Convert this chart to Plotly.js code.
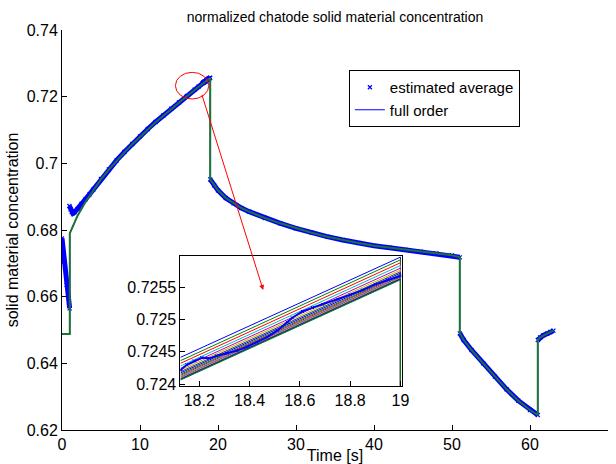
<!DOCTYPE html>
<html><head><meta charset="utf-8">
<script src="https://cdn.plot.ly/plotly-3.0.1.min.js"></script>
<style>html,body{margin:0;padding:0;background:#fff}#chart{width:616px;height:464px}</style>
</head><body><div id="chart"></div>
<script>
// ---- full order model (time [s], normalized concentration) ----
const fullTime = [0, 1.0, 1.0, 1.5, 2, 3, 4, 5, 6, 7, 8, 9, 10, 11, 12, 13, 14, 15, 16, 17, 18, 19.0,
  19.0, 19.5, 20, 21, 22, 23, 24, 26, 28, 30, 32, 34, 36, 38, 40, 42, 44, 46, 48, 50, 51.0,
  51.0, 51.5, 52.5, 54, 55.5, 57, 58.5, 60, 61.0,
  61.0, 61.3, 61.7, 62.2, 62.6, 63.0];
const fullConc = [0.6488, 0.6488, 0.6790, 0.6818, 0.6843, 0.6884, 0.6920, 0.6952, 0.6981, 0.7008, 0.7033, 0.7057, 0.7080, 0.7102, 0.7123, 0.7143, 0.7163, 0.7182, 0.7201, 0.7220, 0.7238, 0.7256,
  0.6952, 0.6934, 0.6919, 0.6896, 0.6880, 0.6866, 0.6855, 0.6836, 0.6820, 0.6805, 0.6792, 0.6780, 0.6770, 0.6761, 0.6753, 0.6747, 0.6741, 0.6735, 0.6730, 0.6724, 0.6718,
  0.6490, 0.6470, 0.6440, 0.6400, 0.6360, 0.6322, 0.6288, 0.6260, 0.6245,
  0.6470, 0.6478, 0.6484, 0.6489, 0.6494, 0.6498];

// ---- estimated average (null = gap between segments) ----
const estTime = [0, 0.3, 0.6, 0.98, null,
  0.95, 1.1, 1.25, 1.4, 1.6, 2.0, 2.5, 3.0, 3.5, 4.0, 5, 6, 7, 8, 9, 10, 11, 12, 13, 14, 15, 16, 17, 17.5, 18.0,
  18.126, 18.15, 18.18, 18.21, 18.24, 18.27, 18.31, 18.35, 18.39, 18.43, 18.47, 18.51, 18.55, 18.57, 18.61, 18.65, 18.69, 18.75, 18.80, 18.85, 18.90, 18.95, 19.0, null,
  19.0, 19.5, 20, 21, 22, 23, 24, 26, 28, 30, 32, 34, 36, 38, 40, 42, 44, 46, 48, 50, 51.0, null,
  51.0, 51.5, 52.5, 54, 55.5, 57, 58.5, 60, 61.0, null,
  61.0, 61.3, 61.7, 62.2, 62.6, 63.0];
const estConc = [0.6775, 0.6705, 0.6635, 0.6565, null,
  0.6872, 0.6862, 0.6854, 0.6850, 0.6853, 0.6863, 0.6878, 0.6892, 0.6906, 0.6921, 0.6953, 0.6982, 0.7009, 0.7034, 0.7058, 0.7081, 0.7103, 0.7124, 0.7144, 0.7164, 0.7183, 0.7202, 0.7221, 0.7230, 0.7240,
  0.72422, 0.72430, 0.72436, 0.72441, 0.72440, 0.72444, 0.72448, 0.72452, 0.72458, 0.72465, 0.72473, 0.72483, 0.72496, 0.72503, 0.72513, 0.72519, 0.72524, 0.72532, 0.72539, 0.72546, 0.72555, 0.72562, 0.72568, null,
  0.6952, 0.6934, 0.6919, 0.6896, 0.6880, 0.6866, 0.6855, 0.6836, 0.6820, 0.6805, 0.6792, 0.6780, 0.6770, 0.6761, 0.6753, 0.6747, 0.6741, 0.6735, 0.6730, 0.6724, 0.6718, null,
  0.6490, 0.6470, 0.6440, 0.6400, 0.6360, 0.6322, 0.6288, 0.6260, 0.6245, null,
  0.6470, 0.6478, 0.6484, 0.6489, 0.6494, 0.6498];

// ---- inset: full-order radial concentration lines ----
const insetLineTime = [18.125, 19.0, 19.0];
const insetStartConc = [0.724415, 0.724363, 0.724322, 0.724280, 0.724244, 0.724218, 0.724192, 0.724171,
  0.724151, 0.724135, 0.724119, 0.724104, 0.724093, 0.724083, 0.724073, 0.724062];
const insetEndConc = [0.725973, 0.725931, 0.725885, 0.725843, 0.725802, 0.725771, 0.725745, 0.725724,
  0.725703, 0.725687, 0.725672, 0.725662, 0.725651, 0.725641, 0.725630, 0.725620];
const insetDropConc = 0.6952;
const lineColors = ['#0000ff', '#008000', '#ff0000', '#00bfbf', '#bf00bf', '#bfbf00', '#404040'];

const FONT = 'Liberation Sans, Arial, Helvetica, sans-serif';
const traces = [];
// main plot
traces.push({x: estTime, y: estConc, xaxis: 'x', yaxis: 'y', mode: 'lines', line: {color: '#0000ff', width: 5},
  connectgaps: false, showlegend: false, hoverinfo: 'skip'});
traces.push({x: estTime, y: estConc, xaxis: 'x', yaxis: 'y', mode: 'markers', name: 'estimated average',
  marker: {symbol: 'x-thin', size: 4, color: '#0000ff', line: {color: '#0000ff', width: 1.2}}});
traces.push({x: fullTime, y: fullConc, xaxis: 'x', yaxis: 'y', mode: 'lines', name: 'full order',
  line: {color: '#0000ff', width: 1}});
traces.push({x: fullTime, y: fullConc, xaxis: 'x', yaxis: 'y', mode: 'lines', showlegend: false,
  line: {color: '#1d7236', width: 2}});
// inset
insetStartConc.forEach((s, i) => {
  traces.push({x: insetLineTime, y: [s, insetEndConc[i], insetDropConc], xaxis: 'x2', yaxis: 'y2', mode: 'lines',
    showlegend: false, line: {color: lineColors[i % lineColors.length], width: 1}});
});
traces.push({x: estTime, y: estConc, xaxis: 'x2', yaxis: 'y2', mode: 'lines', line: {color: '#0000ff', width: 2},
  connectgaps: false, showlegend: false});
traces.push({x: estTime, y: estConc, xaxis: 'x2', yaxis: 'y2', mode: 'markers', showlegend: false,
  marker: {symbol: 'x-thin', size: 3, color: '#0000ff', line: {color: '#0000ff', width: 1}}});

const axBase = {showgrid: false, zeroline: false, showline: true, linecolor: '#000', linewidth: 1,
  ticks: 'inside', ticklen: 5, tickcolor: '#000', tickfont: {family: FONT, size: 16, color: '#000'}};

const layout = {
  width: 616, height: 464,
  margin: {l: 62, r: 8, t: 30, b: 34},
  paper_bgcolor: '#fff', plot_bgcolor: '#fff',
  font: {family: FONT, color: '#000'},
  title: {text: 'normalized chatode solid material concentration', font: {family: FONT, size: 14, color: '#000'},
    x: 0.5, xref: 'paper', y: 1 - 17 / 464, yref: 'container', yanchor: 'middle'},
  xaxis: Object.assign({}, axBase, {range: [0, 70], dtick: 10, tick0: 0, anchor: 'y', domain: [0, 1],
    title: {text: 'Time [s]', font: {family: FONT, size: 16}, standoff: 1}}),
  yaxis: Object.assign({}, axBase, {range: [0.62, 0.74], dtick: 0.02, tick0: 0.62, anchor: 'x', domain: [0, 1],
    title: {text: 'solid material concentration', font: {family: FONT, size: 16}, standoff: 4}}),
  xaxis2: Object.assign({}, axBase, {range: [18.125, 19.005], dtick: 0.2, tick0: 18, anchor: 'y2',
    domain: [0.2169, 0.6222], mirror: true}),
  yaxis2: Object.assign({}, axBase, {range: [0.72397, 0.72599], dtick: 0.0005, tick0: 0.724, anchor: 'x2',
    domain: [0.11, 0.435], mirror: true}),
  showlegend: true,
  legend: {x: 0.5254, y: 0.9, xanchor: 'left', yanchor: 'top', bgcolor: '#fff', bordercolor: '#000', borderwidth: 1,
    font: {family: FONT, size: 15, color: '#000'}, tracegroupgap: 0, itemwidth: 30},
  shapes: [{type: 'circle', xref: 'x', yref: 'y', x0: 14.54, x1: 18.82, y0: 0.7193, y1: 0.7273,
    line: {color: '#ff0000', width: 1}}],
  annotations: [{xref: 'x', yref: 'y', axref: 'x', ayref: 'y', x: 25.79, y: 0.662, ax: 17.88, ay: 0.721,
    text: '', showarrow: true, arrowhead: 2, arrowsize: 1, arrowwidth: 1, arrowcolor: '#ff0000'}]
};

Plotly.newPlot('chart', traces, layout, {displayModeBar: false, staticPlot: true});
</script></body></html>
